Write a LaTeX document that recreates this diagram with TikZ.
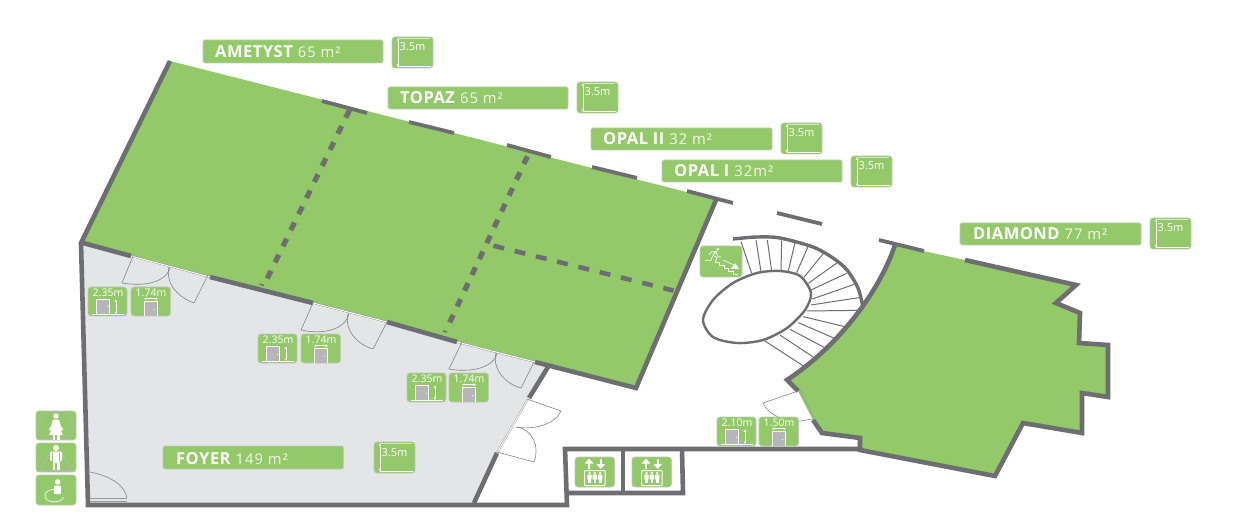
\documentclass[tikz,border=0pt]{standalone}
\usepackage{fontspec}
\setmainfont{Open Sans}
\newfontfamily\ttlfont[LetterSpace=3,Kerning=Off]{Open Sans}
\newfontfamily\numfont[LetterSpace=7]{Open Sans}
\usetikzlibrary{arrows.meta}
\definecolor{roomgreen}{HTML}{93C968}
\definecolor{wallgrey}{HTML}{6D6E71}
\definecolor{foyergrey}{HTML}{E4E5E7}
\definecolor{tileedge}{HTML}{BFCBB6}
\definecolor{doorgrey}{HTML}{B5B6BA}
\newcommand{\ttl}[2]{{\ttlfont\fontsize{16.5}{18}\selectfont\bfseries #1}\hspace{5pt}{\numfont\fontsize{14.8}{16}\selectfont\color{white!90!roomgreen}#2}}
\tikzset{
  wall/.style={draw=wallgrey,line width=4.6pt,line join=miter},
  wallthin/.style={draw=wallgrey,line width=3.8pt},
  leaf/.style={draw=wallgrey!85,line width=.6pt},
  tread/.style={draw=wallgrey,line width=1pt},
  tile/.style={fill=roomgreen,draw=tileedge,line width=.7pt,rounded corners=3pt},
  bar/.style={fill=roomgreen,draw=tileedge,line width=.7pt,rounded corners=1.5pt},
  wtxt/.style={text=white,inner sep=0pt},
  small/.style={wtxt,font=\fontsize{10.5}{11}\selectfont},
  wl/.style={draw=white,line width=.8pt},
  heightpic/.pic={
    \draw[tile] (0,0) rectangle (39,29);
    \node[small,anchor=base] (-txt) at (20,9.5) {#1};
    \fill[doorgrey] (8.3,12.3) rectangle (21.3,27.3);
    \draw[white,line width=.6pt] (8.3,27.3)--(8.3,12.3)--(21.3,12.3)--(21.3,27.3);
    \fill[white] (18.5,19.5) rectangle (19.7,20.3);
    \draw[wl] (4,27.7)--(36,27.7);
    \draw[white,line width=.5pt,{Latex[length=2.4pt,width=3pt]}-{Latex[length=2.4pt,width=3pt]}] (28,12.5)--(28,27);
  },
  widthpic/.pic={
    \draw[tile] (0,0) rectangle (39.5,29);
    \node[small,anchor=base] (-txt) at (20,9.5) {#1};
    \fill[doorgrey] (13.3,14.3) rectangle (26,29);
    \draw[white,line width=.6pt] (13.3,29)--(13.3,14.3)--(26,14.3)--(26,29);
    \fill[white] (23,22) rectangle (24.2,22.8);
    \draw[white,line width=.5pt,{Latex[length=2.4pt,width=3pt]}-{Latex[length=2.4pt,width=3pt]}] (13,11.7)--(27,11.7);
  },
  ceilpic/.pic={
    \draw[tile] (0,0) rectangle (41,31);
    \draw[white,line width=.45pt,{Latex[length=2.4pt,width=3pt]}-{Latex[length=2.4pt,width=3pt]}] (6,1.5)--(6,29.5);
    \draw[white,line width=.8pt] (6,29.5)--(39,29.5);
    \draw[white!60!roomgreen,line width=.5pt] (6,1.5)--(38,1.5);
    \node[small,anchor=base west,font=\fontsize{11}{12}\selectfont] (-txt) at (7.5,14) {3.5m};
  },
  liftpic/.pic={
    \draw[tile] (0,0) rectangle (39.5,30);
    \draw[white,line width=2.2pt,-{Triangle[length=5pt,width=8.5pt]}] (14,12)--(14,1.5);
    \draw[white,line width=2.2pt,-{Triangle[length=5pt,width=8.5pt]}] (25.7,2)--(25.7,12);
    \draw[white,line width=1pt,rounded corners=.8pt] (9.5,13.5)--(9.5,28.5)--(30,28.5)--(30,13.5)--cycle;
    \foreach \u in {14.5,19.8,25.2}{
      \fill[white] (\u,16) circle (1.4pt);
      \fill[white,rounded corners=.5pt] (\u-2.2,17.5) rectangle (\u+2.2,22.5);
      \fill[white] (\u-1.3,22) rectangle (\u+1.3,26);
    }
  }
}
\begin{document}
\begin{tikzpicture}[x=1pt,y=-1pt]
\useasboundingbox (0,0) rectangle (1241,526);
\fill[white] (0,0) rectangle (1241,526);

% fills
\fill[foyergrey] (83,245)--(535,362)--(548,367)--(528,398)--(497,453)--(474,503)--(90,503)--cycle;
\fill[roomgreen] (170,61)--(718,200)--(637,388)--(80,243)--cycle;
\fill[roomgreen] (790,380) .. controls (840,345) and (880,290) .. (895,245)
  --(965,260)--(1076,285)--(1056,303)--(1080,313)--(1079,343)--(1108,345)--(1108,397)--(1082,393)--(1082,433)--(1023,423)--(995,476)--(860,450)--(860,438)--(822,433)--(813,420)--(798,391)--cycle;

% room dividers
\draw[draw=wallgrey,line width=5.2pt,dash pattern=on 8.5pt off 9.4pt] (349.5,110)--(266,281);
\draw[draw=wallgrey,line width=1.5pt] (259.5,284)--(264,285.5);
\draw[draw=wallgrey,line width=5.2pt,dash pattern=on 8.3pt off 9.2pt] (527.4,156.4)--(449.6,322.6);
\draw[draw=wallgrey,line width=1.5pt] (443,331)--(447,332);
\draw[draw=wallgrey,line width=4.6pt,dash pattern=on 11pt off 10.9pt] (493.4,245.7)--(673.6,290.6);

% upper hall walls
\draw[wallthin] (322,101)--(367,113);
\draw[wallthin] (409,122)--(454,133);
\draw[wallthin] (507,145)--(551,157);
\draw[wallthin] (592,167)--(637,178);
\draw[wallthin] (687,191)--(733,203);
\draw[wallthin] (777,213)--(822,224);
\draw[wall] (170,61)--(81,243)--(88,505)--(567,505)--(565,449)--(862,449);
\draw[wall] (83,243)--(131,256);
\draw[wall] (210,277)--(313,303);
\draw[wall] (387,322)--(457,342);
\draw[wall] (535,362)--(636,388)--(716,200);
\draw[wall] (548,367)--(529,398);
\draw[wall] (497,453)--(474,503);

% lift shafts
\draw[wall] (565,493)--(683,493)--(682,449);
\draw[wall] (623,449)--(623,493);

% diamond walls
\draw[wallthin] (879,240)--(924,251);
\draw[wall] (965,260)--(1076,285)--(1056,303)--(1080,313)--(1079,343)--(1108,345)--(1108,397)--(1082,393)--(1082,433)--(1023,423)--(995,476)--(860,450)--(860,438)--(822,433)--(813,420);
\draw[wall] (798,391)--(787,380) .. controls (840,345) and (880,290) .. (895,245);

% door thresholds
\foreach \a/\b in {{131,256}/{210,277},{313,303}/{387,322},{457,342}/{535,362},{528,399}/{497,453}}{
  \draw[draw=wallgrey!80,line width=1.8pt] (\a)--(\b);
  \draw[draw=white,line width=1pt] (\a)--(\b);
}
\draw[draw=wallgrey!70,line width=.5pt] (800,390)--(815,420);
\draw[draw=wallgrey!70,line width=.5pt] (90,498)--(127,498);
\draw[draw=wallgrey!70,line width=.5pt] (90,501)--(127,501);

% door leaves
\draw[leaf] (133,256)--(122,283) .. controls (145,287) and (167,282) .. (170,267);
\draw[leaf] (208,275)--(194,303) .. controls (180,298) and (165,285) .. (169,267);
\draw[leaf] (313,303)--(301,330) .. controls (322,335) and (346,330) .. (349,313);
\draw[leaf] (387,322)--(373,349) .. controls (358,345) and (344,330) .. (348,314);
\draw[leaf] (462,342)--(449,369) .. controls (470,373) and (494,368) .. (497,353);
\draw[leaf] (534,362)--(521,388) .. controls (506,384) and (492,370) .. (496,353);
\draw[leaf] (527,399)--(561,411) .. controls (555,425) and (533,430) .. (515,427);
\draw[leaf] (497,452)--(534,462) .. controls (540,445) and (532,430) .. (517,427);
\draw[leaf] (90,472) .. controls (110,476) and (125,485) .. (127,498);
\draw[leaf] (798,391)--(763,403) .. controls (768,415) and (785,422) .. (800,421)--(813,419);

% spiral stair
\draw[draw=wallgrey,line width=3.4pt] plot[smooth] coordinates {(733,239) (757,237) (780,238) (813,247) (833,258) (847,270) (858,288) (863,307)};
\begin{scope}[shift={(680,200)},x=.3333pt,y=-.3333pt]
\foreach \xa/\ya/\xb/\yb in {215/220/183/125,243/215/228/120,275/213/262/120,303/212/305/122,325/213/345/128,350/218/385/138,372/232/432/158,385/250/472/188,393/270/500/220,397/297/523/253,393/315/537/293,380/333/545/331,370/350/507/383,355/368/475/420,330/388/447/450,300/405/410/478,250/420/378/503}{
  \draw[tread] (\xa,\ya)--(\xb,\yb);
}
\end{scope}
\draw[draw=wallgrey,line width=2.4pt,fill=white] plot[smooth cycle] coordinates {(703,320) (713,300) (733,283) (757,273) (780,271) (800,276) (811,293) (805,310) (787,328) (763,340) (737,343) (713,337)};

% name bars
\draw[bar] (203,40) rectangle (383,63);
\node[wtxt,anchor=base west] (ametyst) at (215,58) {\ttl{AMETYST}{65 m²}};
\draw[bar] (388,87) rectangle (568,109);
\node[wtxt,anchor=base west] (topaz) at (400,104) {\ttl{TOPAZ}{65 m²}};
\draw[bar] (591,128) rectangle (772,150);
\node[wtxt,anchor=base west] (opaltwo) at (603,145) {\ttl{OPAL II}{32 m²}};
\draw[bar] (662,160) rectangle (842,182);
\node[wtxt,anchor=base west] (opalone) at (674,177) {\ttl{OPAL I}{32m²}};
\draw[bar] (960,223) rectangle (1141,245);
\node[wtxt,anchor=base west] (diamond) at (973,240) {\ttl{DIAMOND}{77 m²}};
\draw[bar] (163,446) rectangle (343.5,469);
\node[wtxt,anchor=base west] (foyer) at (176,464) {\ttl{FOYER}{149 m²}};

% ceiling height tiles
\pic (ca) at (392,37) {ceilpic};
\pic (cb) at (577,82) {ceilpic};
\pic (cc) at (781,123) {ceilpic};
\pic (cd) at (851,156) {ceilpic};
\pic (ce) at (1150,218) {ceilpic};
\pic (cf) at (374,442) {ceilpic};

% door tiles
\pic (da) at (88,287) {heightpic={2.35m}};
\pic (db) at (131,287) {widthpic={1.74m}};
\pic (dc) at (258,334) {heightpic={2.35m}};
\pic (dd) at (301,334) {widthpic={1.74m}};
\pic (de) at (407,373) {heightpic={2.35m}};
\pic (df) at (449,373) {widthpic={1.74m}};
\pic (dg) at (717,417) {heightpic={2.10m}};
\pic (dh) at (759,417) {widthpic={1.50m}};

% lifts
\pic at (575,457) {liftpic};
\pic at (632,457) {liftpic};

% stair sign
\begin{scope}[shift={(700,246)}]
\draw[tile] (0,0) rectangle (42,31);
\fill[white] (17.7,3.3) circle (1.6pt);
\draw[white,line width=.7pt] (5,14.3)--(11,14.3)--(13,9)--(16,5.5)--(11,6)--(9,9);
\draw[white,line width=.7pt] (16,5.5)--(18,11)--(21,11);
\draw[white,line width=.7pt] (13,9)--(17,12)--(15,16);
\draw[white,line width=.6pt] (15,16)--(19,16)--(19,19)--(24,19)--(24,22)--(28,22)--(28,25)--(33,25)--(33,28)--(38,28);
\draw[white,line width=.6pt] (23,14)--(36,20);
\fill[white] (39,23)--(30.5,23)--(35.5,17.5)--cycle;
\end{scope}

% toilet signs
\begin{scope}[shift={(36,411)}]
\draw[tile] (0,0) rectangle (40,29);
\draw[doorgrey,line width=.7pt] (20,14.5) ellipse (17pt and 13.5pt);
\fill[white] (20,5) circle (2.7pt);
\fill[white] (17,8.5)--(23,8.5)--(24.5,14)--(27.5,19)--(25,19.5)--(23.5,16)--(27,24)--(13,24)--(16.5,16)--(15,19.5)--(12.5,19)--(15.5,14)--cycle;
\fill[white] (16.5,24) rectangle (18.8,28.5);
\fill[white] (21.2,24) rectangle (23.5,28.5);
\end{scope}
\begin{scope}[shift={(36,443)}]
\draw[tile] (0,0) rectangle (40,29);
\draw[doorgrey,line width=.7pt] (3.5,27.5)--(14,10);
\draw[doorgrey,line width=.7pt] (36.5,27.5)--(26,10);
\draw[doorgrey,line width=.7pt] (3.5,27.5)--(36.5,27.5);
\fill[white] (20,5) circle (3pt);
\fill[white,rounded corners=1pt] (14,8.5) rectangle (26,18);
\fill[white] (16.5,17) rectangle (23.5,20);
\fill[white] (16.5,19) rectangle (19.3,27);
\fill[white] (20.7,19) rectangle (23.5,27);
\draw[roomgreen,line width=.7pt] (16.3,10)--(16.3,18);
\draw[roomgreen,line width=.7pt] (23.7,10)--(23.7,18);
\end{scope}
\begin{scope}[shift={(36,475)}]
\draw[tile] (0,0) rectangle (40,30);
\fill[white] (21.7,7) circle (2.8pt);
\fill[white,rounded corners=.8pt] (18,10.5) rectangle (25,19);
\draw[draw=white!75!doorgrey,line width=.9pt] (18,14.5) .. controls (7,15) and (7,24) .. (13,26) .. controls (19,28) and (26,26.5) .. (27.5,22.5);
\end{scope}
\end{tikzpicture}
\end{document}
